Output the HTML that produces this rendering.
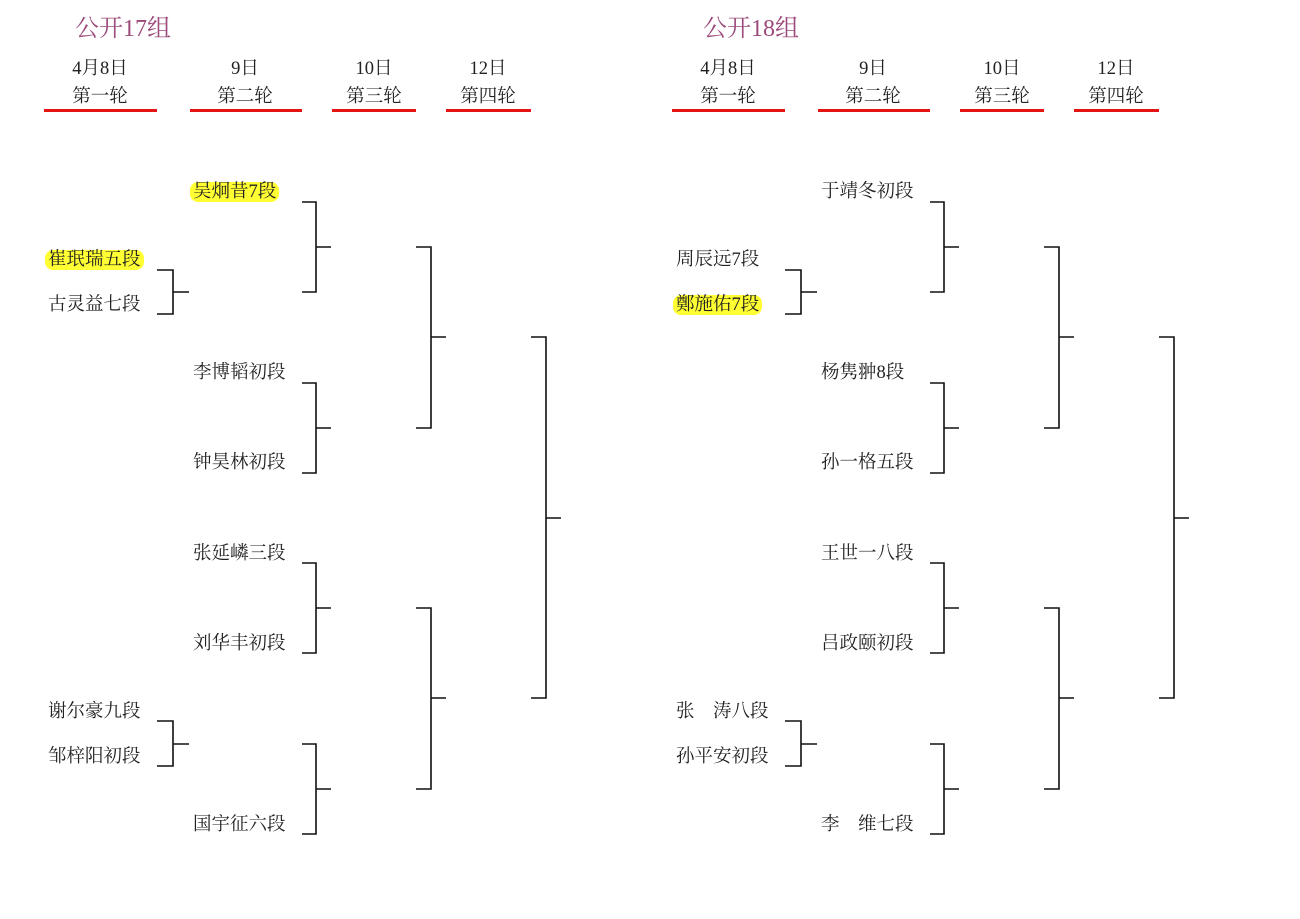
<!DOCTYPE html>
<html><head><meta charset="utf-8">
<style>
body{margin:0;background:#fff;width:1300px;height:919px;position:relative;overflow:hidden;font-family:"Liberation Serif","Noto Serif CJK SC",serif;color:#222}
.t{position:absolute;font-size:18.5px;line-height:22px;white-space:nowrap;margin-top:1px}
.c{text-align:center;width:120px}
.title{position:absolute;font-size:24px;color:#9b4a7a;line-height:30px}
.hl{background:#ffff33;border-radius:8px;padding:0 3px;margin-left:-3px}
.u{position:absolute;height:3px;background:#e41414}
</style></head><body>

<div class="title" style="left:75px;top:14px">公开17组</div>
<div class="title" style="left:703px;top:14px">公开18组</div>

<div class="t c" style="left:40px;top:57px">4月8日</div>
<div class="t c" style="left:40px;top:85px">第一轮</div>
<div class="t c" style="left:185px;top:57px">9日</div>
<div class="t c" style="left:185px;top:85px">第二轮</div>
<div class="t c" style="left:314px;top:57px">10日</div>
<div class="t c" style="left:314px;top:85px">第三轮</div>
<div class="t c" style="left:428px;top:57px">12日</div>
<div class="t c" style="left:428px;top:85px">第四轮</div>
<div class="u" style="left:44px;top:109px;width:113px"></div>
<div class="u" style="left:190px;top:109px;width:112px"></div>
<div class="u" style="left:332px;top:109px;width:84px"></div>
<div class="u" style="left:446px;top:109px;width:85px"></div>

<div class="t c" style="left:668px;top:57px">4月8日</div>
<div class="t c" style="left:668px;top:85px">第一轮</div>
<div class="t c" style="left:813px;top:57px">9日</div>
<div class="t c" style="left:813px;top:85px">第二轮</div>
<div class="t c" style="left:942px;top:57px">10日</div>
<div class="t c" style="left:942px;top:85px">第三轮</div>
<div class="t c" style="left:1056px;top:57px">12日</div>
<div class="t c" style="left:1056px;top:85px">第四轮</div>
<div class="u" style="left:672px;top:109px;width:113px"></div>
<div class="u" style="left:818px;top:109px;width:112px"></div>
<div class="u" style="left:960px;top:109px;width:84px"></div>
<div class="u" style="left:1074px;top:109px;width:85px"></div>

<div class="t" style="left:193px;top:180px"><span class="hl">吴炯昔7段</span></div>
<div class="t" style="left:48px;top:248px"><span class="hl">崔珉瑞五段</span></div>
<div class="t" style="left:48px;top:293px">古灵益七段</div>
<div class="t" style="left:193px;top:361px">李博韬初段</div>
<div class="t" style="left:193px;top:451px">钟昊林初段</div>
<div class="t" style="left:193px;top:542px">张延嶙三段</div>
<div class="t" style="left:193px;top:632px">刘华丰初段</div>
<div class="t" style="left:48px;top:700px">谢尔豪九段</div>
<div class="t" style="left:48px;top:745px">邹梓阳初段</div>
<div class="t" style="left:193px;top:813px">国宇征六段</div>

<div class="t" style="left:821px;top:180px">于靖冬初段</div>
<div class="t" style="left:676px;top:248px">周辰远7段</div>
<div class="t" style="left:676px;top:293px"><span class="hl">鄭施佑7段</span></div>
<div class="t" style="left:821px;top:361px">杨隽翀8段</div>
<div class="t" style="left:821px;top:451px">孙一格五段</div>
<div class="t" style="left:821px;top:542px">王世一八段</div>
<div class="t" style="left:821px;top:632px">吕政颐初段</div>
<div class="t" style="left:676px;top:700px">张　涛八段</div>
<div class="t" style="left:676px;top:745px">孙平安初段</div>
<div class="t" style="left:821px;top:813px">李　维七段</div>

<svg width="1300" height="919" style="position:absolute;left:0;top:0" fill="none" stroke="#111" stroke-width="1.6">
<defs>
<g id="br">
<path d="M157 270H173V314H157M173 292H189"/>
<path d="M302 202H316V292H302M316 247H331"/>
<path d="M302 383H316V473H302M316 428H331"/>
<path d="M302 563H316V653H302M316 608H331"/>
<path d="M302 744H316V834H302M316 789H331"/>
<path d="M416 247H431V428H416M431 337H446"/>
<path d="M416 608H431V789H416M431 698H446"/>
<path d="M531 337H546V698H531M546 518H561"/>
<path d="M157 721H173V766H157M173 744H189"/>
</g>
</defs>
<use href="#br"/>
<g transform="translate(628,0)">
<use href="#br"/>
</g>
</svg>
</body></html>
